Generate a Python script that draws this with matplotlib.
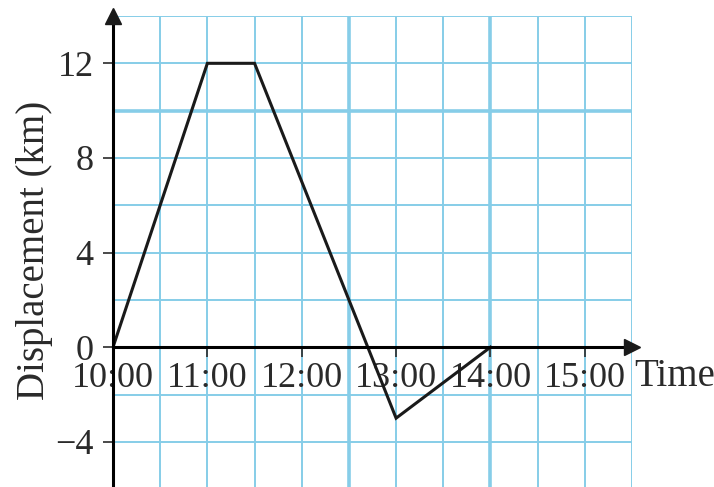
import numpy as np
import matplotlib
matplotlib.use("Agg")
import matplotlib.pyplot as plt

# journey data: time in hours, displacement in km
time_h = [10, 11, 11.5, 13, 14]
displacement = [0, 12, 12, -3, 0]

x_ticks = [10, 11, 12, 13, 14, 15]
x_labels = ["10:00", "11:00", "12:00", "13:00", "14:00", "15:00"]
y_ticks = [12, 8, 4, 0, -4]
y_labels = ["12", "8", "4", "0", "\u22124"]

plt.rcParams['font.family'] = ['Liberation Serif', 'DejaVu Serif']

fig = plt.figure(figsize=(7.14, 4.87), dpi=100)
ax = fig.add_axes([113/714, 0, (632-113)/714, (487-16)/487])
ax.set_xlim(10, 15.5)
ax.set_ylim(-5.91, 14)

# graph paper grid
grid_col = '#86cde8'
for gx in np.arange(10.5, 15.51, 0.5):
    lw = 2.6 if gx in (12.5, 14.0) else 1.4
    ax.axvline(gx, color=grid_col, lw=lw, zorder=0)
for gy in np.arange(-4, 14.1, 2):
    lw = 2.6 if gy == 10 else 1.4
    ax.axhline(gy, color=grid_col, lw=lw, zorder=0)

ax.plot(time_h, displacement, color='#1a1a1a', lw=2.2, zorder=3, solid_joinstyle='miter')

# axes through origin with arrows
for s in ['top', 'right']:
    ax.spines[s].set_visible(False)
ax.spines['bottom'].set_position(('data', 0))
ax.spines['left'].set_position(('data', 10))
ax.spines['bottom'].set_linewidth(2.2)
ax.spines['left'].set_linewidth(2.2)
ax.spines['bottom'].set_zorder(4)
ax.spines['left'].set_zorder(4)
ax.plot(1, 0, '>', color='#1a1a1a', ms=12, transform=ax.get_yaxis_transform(),
        clip_on=False, zorder=5)
ax.plot(10, 1, '^', color='#1a1a1a', ms=12, transform=ax.get_xaxis_transform(),
        clip_on=False, zorder=5)

ax.set_xticks(x_ticks)
ax.set_xticklabels(x_labels)
ax.set_yticks(y_ticks)
ax.set_yticklabels(y_labels)
ax.tick_params(axis='x', direction='out', length=7, width=1.2, pad=4,
               labelsize=26, colors='#2a2a2a')
ax.tick_params(axis='y', direction='out', length=7, width=1.2, pad=7,
               labelsize=26, colors='#2a2a2a')

fig.text(35/714, 1 - 250/487, "Displacement (km)", rotation=90, fontsize=28,
         color='#2a2a2a', ha='center', va='center')
fig.text(634/714, 1 - 376/487, "Time", fontsize=28, color='#2a2a2a',
         ha='left', va='center')

fig.savefig("out.png", dpi=100)
